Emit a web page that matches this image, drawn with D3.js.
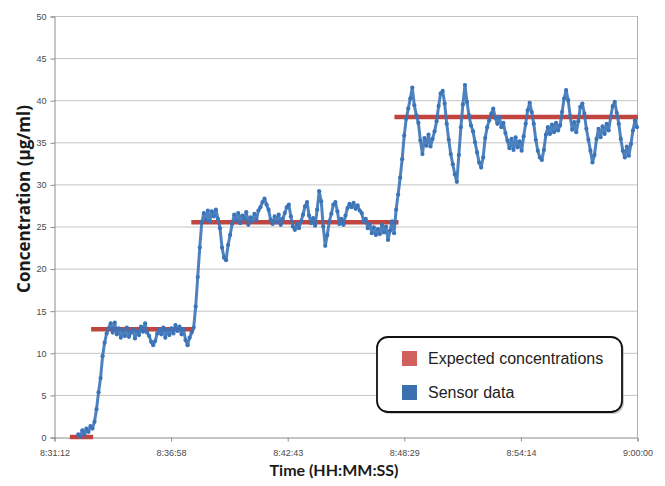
<!DOCTYPE html>
<html>
<head>
<meta charset="utf-8">
<script src="https://cdn.jsdelivr.net/npm/d3@7"></script>
<style>
  html, body { margin: 0; padding: 0; background: #fff; }
  svg { display: block; }
</style>
</head>
<body>
<svg id="chart" width="665" height="486"></svg>
<script>
// ---- DATA ----
// time axis: seconds after 8:31:12, ticks every 345.6 s
const tickSeconds = [0, 345.6, 691.2, 1036.8, 1382.4, 1728];
const tickLabels = ["8:31:12", "8:36:58", "8:42:43", "8:48:29", "8:54:14", "9:00:00"];
const yTicks = [0, 5, 10, 15, 20, 25, 30, 35, 40, 45, 50];

// expected concentrations (step segments)
const expectedStart = [47, 110, 407, 1009];
const expectedEnd   = [116, 416, 1021, 1731];
const expectedValue = [0, 12.8, 25.5, 38.0];

// sensor data, sampled every 6 s starting at 72 s
const sensorStart = 72;
const sensorStep = 6;
const sensorValues = [
  0.3, 0.0, 0.8, 0.3, 1.0, 0.6, 1.3, 1.0, 1.8, 3.3,
  5.3, 7.0, 9.6, 11.2, 12.3, 12.9, 13.5, 12.4, 13.6, 12.2,
  12.9, 11.8, 12.7, 12.0, 13.0, 11.9, 12.4, 12.8, 11.7, 12.6,
  12.1, 13.1, 12.5, 13.5, 12.4, 12.0, 11.3, 10.9, 11.4, 12.3,
  12.8, 12.2, 13.0, 11.8, 12.7, 12.1, 12.9, 12.3, 13.3, 12.6,
  13.1, 12.2, 12.8, 11.5, 10.9, 11.8, 12.4, 13.0, 15.5, 19.0,
  22.5, 25.5, 26.6, 25.8, 26.9, 25.6, 26.8, 26.2, 27.0, 25.9,
  24.8, 22.5, 21.3, 21.0, 22.8, 24.0, 25.3, 26.4, 25.7, 26.6,
  25.4, 26.3, 25.9, 26.7, 25.2, 26.1, 25.6, 26.5, 25.8, 26.9,
  27.3, 27.9, 28.3, 27.6, 27.0, 25.8, 25.3, 26.2, 25.5, 26.4,
  25.2, 25.9, 26.6, 27.3, 27.6, 26.2, 25.0, 24.6, 25.3, 24.8,
  25.6, 26.4, 27.4, 27.9, 26.3, 25.4, 26.0, 25.1, 27.0, 29.2,
  28.0, 25.0, 22.7, 24.0, 25.6, 26.5, 27.6, 27.9, 26.8, 25.3,
  25.9, 25.2, 26.3, 27.2, 27.7, 27.3, 27.8, 27.1, 27.5, 26.9,
  26.6, 25.6, 25.9, 24.8, 25.3, 24.2, 24.9, 24.0, 24.7, 24.1,
  25.2, 24.3, 25.0, 23.4, 24.5, 25.6, 24.2, 27.0, 28.8, 30.8,
  33.0, 35.8, 37.8, 39.0, 40.2, 41.5, 39.4, 38.2, 37.3, 35.2,
  33.6, 35.5, 34.6, 35.9, 34.5, 35.4, 36.3, 37.5, 39.3, 40.8,
  41.1, 39.6, 37.2, 35.3, 33.6, 32.4, 31.2, 30.3, 33.5, 36.8,
  39.5, 41.8, 39.8, 38.2, 37.0, 36.3, 35.0, 33.8, 32.6, 32.0,
  33.2, 35.5, 36.8, 37.6, 38.4, 39.0, 37.9, 37.2, 38.0, 36.8,
  37.3, 36.1, 35.2, 34.3, 35.4, 34.1, 35.6, 34.4, 35.1, 34.0,
  35.7, 37.2, 38.8, 39.7, 38.6, 37.2, 35.3, 34.0, 33.2, 32.9,
  34.1, 35.9, 36.8, 36.0, 37.1, 36.2, 37.3, 36.4, 37.0, 38.6,
  40.2, 41.2, 40.0, 38.1, 36.5, 37.4, 36.2, 37.5, 39.2, 39.6,
  38.4, 36.6, 35.3, 34.0, 32.6, 33.5, 35.4, 36.6, 35.6, 36.9,
  36.0, 37.2, 36.4, 38.0, 39.3, 39.8, 38.5, 37.2, 35.4, 34.0,
  33.2, 34.5, 33.4, 34.8, 36.4, 37.6, 36.8
];

const legendLabels = ["Expected concentrations", "Sensor data"];

// ---- DRAW ----
const svg = d3.select("#chart");
const plot = { left: 54, right: 637, top: 16, bottom: 437 };

const x = d3.scaleLinear().domain([0, 1728]).range([plot.left, plot.right]);
const y = d3.scaleLinear().domain([0, 50]).range([plot.bottom, plot.top]);

const redLine = "#c0443f";
const blueDot = "#3b74b8";
const legendRed = "#d0605c";
const legendBlue = "#3b6fae";

// gridlines
svg.append("g")
  .selectAll("line")
  .data(yTicks.filter(d => d > 0))
  .join("line")
  .attr("x1", plot.left).attr("x2", plot.right)
  .attr("y1", d => y(d) + 0.5).attr("y2", d => y(d) + 0.5)
  .attr("stroke", "#c4c4c4").attr("stroke-width", 1);

// right border
svg.append("line")
  .attr("x1", plot.right + 0.5).attr("x2", plot.right + 0.5)
  .attr("y1", plot.top).attr("y2", plot.bottom)
  .attr("stroke", "#b0b0b0");

// y axis
const yAxis = d3.axisLeft(y).tickValues(yTicks).tickSize(4).tickPadding(4).tickFormat(d => d);
const gy = svg.append("g").attr("transform", `translate(${plot.left + 0.5},0.5)`).call(yAxis);
gy.select(".domain").attr("stroke", "#8c8c8c");
gy.selectAll(".tick line").attr("stroke", "#8c8c8c");
gy.selectAll(".tick text")
  .attr("fill", "#4a4a4a")
  .style("font-family", "'Liberation Sans Narrow', 'Arial Narrow', sans-serif")
  .style("font-size", "9px");

// x axis
const xAxis = d3.axisBottom(x).tickValues(tickSeconds).tickSize(4).tickPadding(8)
  .tickFormat((d, i) => tickLabels[i]);
const gx = svg.append("g").attr("transform", `translate(0.5,${plot.bottom + 0.5})`).call(xAxis);
gx.select(".domain").attr("stroke", "#8c8c8c");
gx.selectAll(".tick line").attr("stroke", "#8c8c8c");
gx.selectAll(".tick text")
  .attr("fill", "#4a4a4a")
  .style("font-family", "'Liberation Sans Narrow', 'Arial Narrow', sans-serif")
  .style("font-size", "9px");

// expected concentrations
const expected = expectedValue.map((v, i) => ({ s: expectedStart[i], e: expectedEnd[i], v }));
svg.append("g")
  .selectAll("line")
  .data(expected)
  .join("line")
  .attr("x1", d => x(d.s)).attr("x2", d => x(d.e))
  .attr("y1", d => y(d.v)).attr("y2", d => y(d.v))
  .attr("stroke", redLine).attr("stroke-width", 4.5);

// sensor data
const sensor = sensorValues.map((v, i) => ({ t: sensorStart + i * sensorStep, v }));
svg.append("path")
  .datum(sensor)
  .attr("fill", "none")
  .attr("stroke", blueDot)
  .attr("stroke-width", 3)
  .attr("stroke-linejoin", "round")
  .attr("stroke-opacity", 0.9)
  .attr("d", d3.line().x(d => x(d.t)).y(d => y(d.v)));
svg.append("g")
  .selectAll("circle")
  .data(sensor)
  .join("circle")
  .attr("cx", d => x(d.t)).attr("cy", d => y(d.v))
  .attr("r", 2.1)
  .attr("fill", blueDot);

// axis titles
svg.append("text")
  .attr("transform", `translate(30,199) rotate(-90)`)
  .attr("text-anchor", "middle")
  .style("font-family", "'Open Sans', Lato, sans-serif")
  .style("font-weight", "bold")
  .style("font-size", "17px")
  .attr("fill", "#1a1a1a")
  .text("Concentration (μg/ml)");

svg.append("text")
  .attr("x", 334).attr("y", 476)
  .attr("text-anchor", "middle")
  .style("font-family", "Lato, 'Open Sans', sans-serif")
  .style("font-weight", "bold")
  .style("font-size", "16px")
  .attr("fill", "#1a1a1a")
  .text("Time (HH:MM:SS)");

// legend
const lg = svg.append("g");
lg.append("rect")
  .attr("x", 379).attr("y", 339).attr("width", 245).attr("height", 75)
  .attr("rx", 11).attr("ry", 11)
  .attr("fill", "#9a9a9a").attr("opacity", 0.5);
lg.append("rect")
  .attr("x", 377).attr("y", 337).attr("width", 245).attr("height", 75)
  .attr("rx", 11).attr("ry", 11)
  .attr("fill", "#fff").attr("stroke", "#111").attr("stroke-width", 1.8);
const legendColors = [legendRed, legendBlue];
const items = lg.selectAll("g.item")
  .data(legendLabels)
  .join("g")
  .attr("class", "item")
  .attr("transform", (d, i) => `translate(402,${351 + i * 34})`);
items.append("rect")
  .attr("width", 15).attr("height", 15)
  .attr("fill", (d, i) => legendColors[i]);
items.append("text")
  .attr("x", 26).attr("y", 7.5)
  .attr("dy", "0.36em")
  .style("font-family", "'Liberation Sans', Arial, sans-serif")
  .style("font-size", "16px")
  .attr("fill", "#222")
  .text(d => d);
</script>
</body>
</html>
